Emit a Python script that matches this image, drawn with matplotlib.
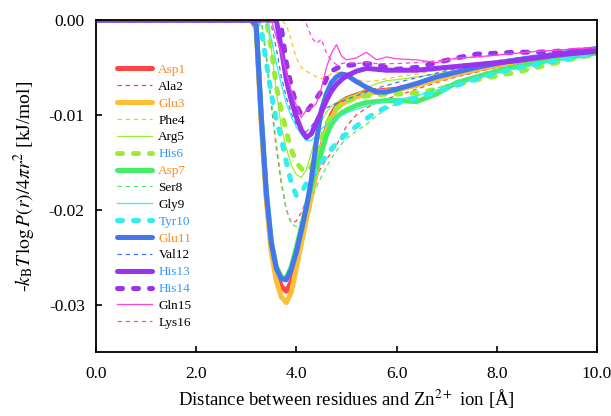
import matplotlib
matplotlib.use('Agg')
import matplotlib.pyplot as plt

plt.rcParams['font.family'] = 'Liberation Serif'
plt.rcParams['mathtext.fontset'] = 'stix'
plt.rcParams['axes.unicode_minus'] = False

x = [0.0, 3.1, 3.2, 3.3, 3.4, 3.5, 3.6, 3.7, 3.8, 3.9, 4.0, 4.1, 4.2, 4.3, 4.4, 4.5, 4.6, 4.7, 4.8, 4.9,
     5.0, 5.2, 5.4, 5.6, 5.8, 6.0, 6.4, 6.8, 7.2, 7.6, 8.0, 8.4, 8.8, 9.2, 9.6, 10.0]

asp1 = [0, 0, -0.0008, -0.0105, -0.0185, -0.0238, -0.0265, -0.0281, -0.0286, -0.0276, -0.0255, -0.0232, -0.0208, -0.0185, -0.0160, -0.0135, -0.0115, -0.0100, -0.0091, -0.0086,
        -0.0083, -0.0079, -0.0076, -0.0075, -0.0074, -0.0073, -0.0068, -0.0062, -0.0057, -0.0052, -0.0048, -0.0044, -0.0041, -0.0038, -0.0035, -0.0032]
ala2 = [0, 0, 0, 0, -0.0040, -0.0090, -0.0135, -0.0172, -0.0200, -0.0214, -0.0212, -0.0203, -0.0190, -0.0178, -0.0165, -0.0155, -0.0147, -0.0140, -0.0132, -0.0122,
        -0.0112, -0.0100, -0.0093, -0.0087, -0.0083, -0.0080, -0.0073, -0.0066, -0.0060, -0.0055, -0.0050, -0.0046, -0.0042, -0.0039, -0.0036, -0.0033]
glu3 = [0, 0, -0.0010, -0.0110, -0.0190, -0.0245, -0.0275, -0.0292, -0.0298, -0.0287, -0.0262, -0.0236, -0.0210, -0.0186, -0.0160, -0.0136, -0.0117, -0.0103, -0.0094, -0.0089,
        -0.0086, -0.0081, -0.0078, -0.0076, -0.0075, -0.0074, -0.0069, -0.0063, -0.0057, -0.0052, -0.0048, -0.0044, -0.0041, -0.0038, -0.0035, -0.0032]
phe4 = [0, 0, 0, 0, 0, 0, 0, 0, -0.0005, -0.0022, -0.0040, -0.0050, -0.0054, -0.0057, -0.0060, -0.0062, -0.0060, -0.0057, -0.0055, -0.0056,
        -0.0058, -0.0063, -0.0065, -0.0064, -0.0062, -0.0060, -0.0057, -0.0053, -0.0050, -0.0047, -0.0045, -0.0042, -0.0039, -0.0037, -0.0035, -0.0032]
arg5 = [0, 0, 0, 0, 0, -0.0030, -0.0075, -0.0113, -0.0135, -0.0153, -0.0163, -0.0166, -0.0158, -0.0140, -0.0120, -0.0107, -0.0097, -0.0091, -0.0087, -0.0084,
        -0.0082, -0.0078, -0.0072, -0.0067, -0.0064, -0.0063, -0.0060, -0.0057, -0.0053, -0.0050, -0.0047, -0.0044, -0.0041, -0.0038, -0.0035, -0.0032]
his6 = [0, 0, 0, 0, 0, -0.0030, -0.0070, -0.0095, -0.0118, -0.0137, -0.0150, -0.0157, -0.0160, -0.0155, -0.0142, -0.0125, -0.0110, -0.0100, -0.0093, -0.0089,
        -0.0086, -0.0082, -0.0080, -0.0079, -0.0078, -0.0078, -0.0077, -0.0073, -0.0068, -0.0063, -0.0059, -0.0055, -0.0050, -0.0045, -0.0040, -0.0036]
asp7 = [0, 0, -0.0006, -0.0100, -0.0180, -0.0233, -0.0260, -0.0271, -0.0272, -0.0260, -0.0240, -0.0218, -0.0196, -0.0175, -0.0155, -0.0140, -0.0122, -0.0110, -0.0103, -0.0098,
        -0.0095, -0.0090, -0.0087, -0.0086, -0.0085, -0.0085, -0.0086, -0.0078, -0.0066, -0.0060, -0.0054, -0.0049, -0.0045, -0.0041, -0.0038, -0.0035]
ser8 = [0, 0, 0, 0, -0.0035, -0.0085, -0.0130, -0.0170, -0.0200, -0.0215, -0.0218, -0.0212, -0.0200, -0.0188, -0.0176, -0.0165, -0.0155, -0.0146, -0.0138, -0.0131,
        -0.0125, -0.0117, -0.0110, -0.0101, -0.0094, -0.0088, -0.0080, -0.0072, -0.0065, -0.0058, -0.0052, -0.0047, -0.0043, -0.0039, -0.0036, -0.0033]
gly9 = [0, 0, 0, 0, 0, -0.0020, -0.0045, -0.0068, -0.0088, -0.0102, -0.0113, -0.0121, -0.0127, -0.0127, -0.0122, -0.0115, -0.0110, -0.0107, -0.0104, -0.0101,
        -0.0098, -0.0094, -0.0091, -0.0088, -0.0086, -0.0084, -0.0080, -0.0074, -0.0067, -0.0061, -0.0055, -0.0050, -0.0046, -0.0042, -0.0038, -0.0035]
tyr10 = [0, 0, 0, -0.0010, -0.0045, -0.0078, -0.0105, -0.0125, -0.0150, -0.0172, -0.0185, -0.0183, -0.0172, -0.0163, -0.0158, -0.0150, -0.0143, -0.0136, -0.0130, -0.0125,
         -0.0120, -0.0112, -0.0104, -0.0097, -0.0092, -0.0088, -0.0082, -0.0076, -0.0069, -0.0062, -0.0056, -0.0051, -0.0047, -0.0043, -0.0039, -0.0035]
glu11 = [0, 0, -0.0006, -0.0102, -0.0182, -0.0235, -0.0262, -0.0273, -0.0274, -0.0263, -0.0245, -0.0222, -0.0198, -0.0168, -0.0128, -0.0095, -0.0078, -0.0066, -0.0060, -0.0057,
         -0.0058, -0.0065, -0.0071, -0.0076, -0.0076, -0.0073, -0.0067, -0.0060, -0.0055, -0.0050, -0.0046, -0.0042, -0.0039, -0.0036, -0.0033, -0.0030]
val12 = [0, 0, 0, 0, 0, -0.0005, -0.0030, -0.0060, -0.0082, -0.0098, -0.0110, -0.0117, -0.0118, -0.0112, -0.0105, -0.0098, -0.0093, -0.0090, -0.0088, -0.0086,
         -0.0084, -0.0080, -0.0076, -0.0072, -0.0069, -0.0066, -0.0061, -0.0056, -0.0051, -0.0047, -0.0043, -0.0040, -0.0037, -0.0034, -0.0032, -0.0030]
his13 = [0, 0, 0, 0, 0, 0, 0, -0.0030, -0.0063, -0.0085, -0.0102, -0.0116, -0.0124, -0.0120, -0.0108, -0.0097, -0.0085, -0.0075, -0.0068, -0.0063,
         -0.0059, -0.0054, -0.0051, -0.0052, -0.0053, -0.0053, -0.0053, -0.0051, -0.0049, -0.0047, -0.0045, -0.0043, -0.0040, -0.0037, -0.0035, -0.0033]
his14 = [0, 0, 0, 0, 0, 0, 0, -0.0008, -0.0045, -0.0070, -0.0090, -0.0100, -0.0097, -0.0090, -0.0083, -0.0075, -0.0062, -0.0054, -0.0051, -0.0049,
         -0.0048, -0.0047, -0.0046, -0.0047, -0.0050, -0.0052, -0.0050, -0.0045, -0.0040, -0.0036, -0.0035, -0.0034, -0.0034, -0.0033, -0.0032, -0.0031]
gln15 = [0, 0, 0, 0, 0, 0, -0.0018, -0.0035, -0.0055, -0.0075, -0.0090, -0.0103, -0.0095, -0.0093, -0.0088, -0.0072, -0.0050, -0.0035, -0.0026, -0.0038,
         -0.0042, -0.0040, -0.0034, -0.0042, -0.0039, -0.0041, -0.0042, -0.0045, -0.0040, -0.0039, -0.0037, -0.0035, -0.0033, -0.0032, -0.0030, -0.0029]
lys16 = [0, 0, 0, 0, 0, 0, 0, 0, 0, 0, 0, 0, -0.0004, -0.0018, -0.0025, -0.0020, -0.0035, -0.0043, -0.0047, -0.0046,
         -0.0045, -0.0046, -0.0045, -0.0046, -0.0046, -0.0046, -0.0045, -0.0043, -0.0041, -0.0039, -0.0037, -0.0035, -0.0033, -0.0032, -0.0030, -0.0029]

names = ['Asp1', 'Ala2', 'Glu3', 'Phe4', 'Arg5', 'His6', 'Asp7', 'Ser8',
         'Gly9', 'Tyr10', 'Glu11', 'Val12', 'His13', 'His14', 'Gln15', 'Lys16']
series = [asp1, ala2, glu3, phe4, arg5, his6, asp7, ser8,
          gly9, tyr10, glu11, val12, his13, his14, gln15, lys16]

# one colour per pair of residues
pair_colors = ['#ff4444', '#ffbf33', '#99ee33', '#44ee66', '#33eeee', '#4477ee', '#9933ee', '#ff44dd']
# label colours: acidic orange, histidine/tyrosine blue, rest black
label_colors = ['#ff8c1a', 'black', '#ff8c1a', 'black', 'black', '#3399ff', '#ff8c1a', 'black',
                'black', '#3399ff', '#ff8c1a', 'black', '#3399ff', '#3399ff', 'black', 'black']
styles = ['thick', 'dash', 'thick', 'dash', 'thin', 'dot', 'thick', 'dash',
          'thin', 'dot', 'thick', 'dash', 'thick', 'dot', 'thin', 'dash']

fig = plt.figure(figsize=(6.11, 4.16), dpi=100)
ax = fig.add_axes([0.157, 0.154, 0.82, 0.798])

for i in range(16):
    c = pair_colors[i // 2]
    s = styles[i]
    if s == 'thick':
        ax.plot(x, series[i], color=c, linewidth=3.6, solid_capstyle='round', label=names[i])
    elif s == 'dot':
        ax.plot(x, series[i], color=c, linewidth=3.6, linestyle=(0, (1, 2.2)),
                dash_capstyle='round', label=names[i])
    elif s == 'dash':
        ax.plot(x, series[i], color=c, linewidth=0.9, linestyle=(0, (3.5, 3)), label=names[i])
    else:
        ax.plot(x, series[i], color=c, linewidth=0.9, label=names[i])

ax.set_xlim(0, 10)
ax.set_ylim(-0.035, 0)
ax.set_xticks([0, 2, 4, 6, 8, 10])
ax.set_xticklabels(['0.0', '2.0', '4.0', '6.0', '8.0', '10.0'])
ax.set_yticks([0, -0.01, -0.02, -0.03])
ax.set_yticklabels(['0.00', '-0.01', '-0.02', '-0.03'])
ax.tick_params(axis='x', direction='in', length=4, width=1.2, labelsize=12.5, pad=10)
ax.tick_params(axis='y', direction='in', length=4, width=1.2, labelsize=12.5, pad=8)
for sp in ax.spines.values():
    sp.set_linewidth(1.3)

ax.set_xlabel('Distance between residues and Zn$^{2+}$ ion [Å]', fontsize=13.5, labelpad=4)
ax.set_ylabel(r'-$k_\mathrm{B}T\,\log P(r)/4\pi r^2$ [kJ/mol]', fontsize=14, labelpad=8)

leg = ax.legend(loc='upper left', bbox_to_anchor=(0.043, 0.868), frameon=False,
                fontsize=9.5, handlelength=2.65, handletextpad=0.45, labelspacing=0.35,
                borderpad=0, borderaxespad=0)
for t, lc in zip(leg.get_texts(), label_colors):
    t.set_color(lc)

plt.savefig('out.png', dpi=100)
